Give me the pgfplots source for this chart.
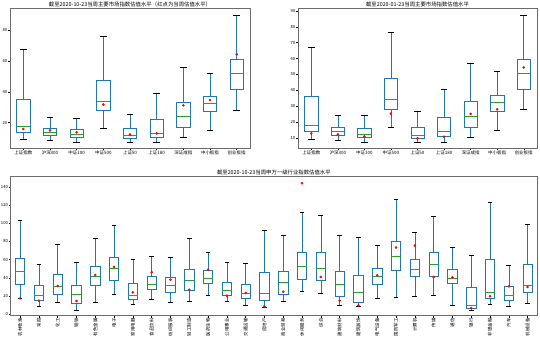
\documentclass[border=0pt]{standalone}
\usepackage{pgfplots}
\pgfplotsset{compat=1.18}
\usepgfplotslibrary{statistics}
\usepackage{fontspec}
\setmainfont{Noto Sans CJK SC}
\definecolor{cb}{HTML}{1F77B4}
\definecolor{cg}{HTML}{2CA02C}
\newcommand{\bx}[6]{\addplot[boxplot prepared={draw position=#1, lower whisker=#2, lower quartile=#3, median=#4, upper quartile=#5, upper whisker=#6}] coordinates {};}
\pgfplotsset{
  myaxis/.style={
    scale only axis,
    axis line style={draw=gray!85!black, line width=0.6bp},
    tick pos=left, tick align=outside, major tick length=1.8bp,
    tick style={black, line width=0.4bp},
    /pgf/number format/assume math mode=true,
    tick label style={font=\fontsize{4.2}{5}\selectfont, inner sep=0.8bp},
    xticklabel style={font=\fontsize{4.5}{5}\selectfont},
    title style={font=\fontsize{5.4}{6}\selectfont, at={(0.5,1)}, anchor=center, yshift=-2bp, inner sep=0pt},
    boxplot/draw direction=y,
    boxplot/box extend=0.5,
    boxplot/whisker extend=0.25,
    boxplot/every box/.style={draw=cb, line width=0.6bp},
    boxplot/every median/.style={draw=cg, line width=0.6bp},
    boxplot/draw/lower whisker/.code={
      \draw[cb, line width=0.6bp] (boxplot box cs:\pgfplotsboxplotvalue{lower whisker},0.5) -- (boxplot box cs:\pgfplotsboxplotvalue{lower quartile},0.5);
      \draw[black, line width=0.6bp] (boxplot whisker cs:\pgfplotsboxplotvalue{lower whisker},0) -- (boxplot whisker cs:\pgfplotsboxplotvalue{lower whisker},1);
    },
    boxplot/draw/upper whisker/.code={
      \draw[cb, line width=0.6bp] (boxplot box cs:\pgfplotsboxplotvalue{upper whisker},0.5) -- (boxplot box cs:\pgfplotsboxplotvalue{upper quartile},0.5);
      \draw[black, line width=0.6bp] (boxplot whisker cs:\pgfplotsboxplotvalue{upper whisker},0) -- (boxplot whisker cs:\pgfplotsboxplotvalue{upper whisker},1);
    },
  },
  reddot/.style={only marks, mark=*, mark size=1.1bp, color=red},
}
\begin{document}
\begin{tikzpicture}
\useasboundingbox (0,0) rectangle (540bp,341bp);
% Panel 1
\begin{axis}[myaxis, at={(10bp,332.5bp)}, anchor=north west, width=240bp, height=139.5bp,
  xmin=0.5, xmax=9.5, ymin=3.6, ymax=93.8, ytick={20,40,60,80},
  xtick={1,...,9}, xticklabels={上证指数,沪深300,中证100,中证500,上证50,上证180,深证成指,中小板指,创业板指},
  title={截至2020-10-23当周主要市场指数估值水平（红点为当周估值水平）}]
\bx{1}{9.0}{13.5}{17.4}{35.3}{67.2}
\bx{2}{8.3}{11.6}{13.5}{16.3}{23.2}
\bx{3}{7.1}{10.3}{12.2}{15.7}{22.6}
\bx{4}{16.3}{28.0}{33.8}{47.2}{75.9}
\bx{5}{7.1}{9.9}{11.6}{16.3}{25.6}
\bx{6}{7.1}{10.5}{12.9}{22.2}{38.8}
\bx{7}{10.3}{17.0}{23.9}{32.9}{55.6}
\bx{8}{14.8}{27.1}{32.3}{36.8}{51.7}
\bx{9}{28.0}{41.4}{51.9}{60.8}{89.3}
\addplot[reddot] coordinates {(1,15.9) (2,15.0) (3,13.7) (4,31.7) (5,12.4) (6,13.1) (7,31.2) (8,34.7) (9,64.2)};
\end{axis}
% Panel 2
\begin{axis}[myaxis, at={(298bp,332.5bp)}, anchor=north west, width=239bp, height=139.5bp,
  xmin=0.5, xmax=9.5, ymin=3.5, ymax=91.6, ytick={10,20,...,90},
  xtick={1,...,9}, xticklabels={上证指数,沪深300,中证100,中证500,上证50,上证180,深证成指,中小板指,创业板指},
  title={截至2020-01-23当周主要市场指数估值水平}]
\bx{1}{8.7}{13.8}{17.6}{35.9}{67.0}
\bx{2}{8.1}{11.3}{14.0}{16.5}{23.9}
\bx{3}{6.8}{10.2}{12.1}{15.9}{23.9}
\bx{4}{16.5}{27.9}{34.3}{47.3}{76.7}
\bx{5}{6.8}{9.6}{11.3}{16.5}{26.5}
\bx{6}{6.8}{10.6}{14.0}{22.7}{40.4}
\bx{7}{10.0}{16.5}{23.3}{32.8}{57.0}
\bx{8}{14.4}{26.5}{32.2}{36.6}{52.2}
\bx{9}{27.9}{40.4}{50.5}{59.4}{87.2}
\addplot[reddot] coordinates {(1,12.7) (2,12.1) (3,10.8) (4,25.2) (5,9.6) (6,10.6) (7,25.0) (8,27.9) (9,54.3)};
\end{axis}
% Panel 3
\begin{axis}[myaxis, at={(10.7bp,165bp)}, anchor=north west, width=526.3bp, height=139.7bp,
  xmin=0.5, xmax=28.5, ymin=-1.8, ymax=152, ytick={0,20,...,140},
  xtick={1,...,28},
  xticklabels={农林牧渔,采掘,化工,钢铁,有色金属,电子,家用电器,食品饮料,纺织服装,轻工制造,医药生物,公用事业,交通运输,房地产,商业贸易,休闲服务,综合,建筑材料,建筑装饰,电气设备,国防军工,计算机,传媒,通信,银行,非银金融,汽车,机械设备},
  xticklabel style={rotate=90, anchor=east},
  title={截至2020-10-23当周申万一级行业指数估值水平}]
\bx{1}{17.3}{32.7}{47.1}{61.4}{103.3}
\bx{2}{8.1}{15.1}{20.6}{31.6}{55.1}
\bx{3}{12.9}{21.7}{30.5}{44.1}{76.8}
\bx{4}{4.0}{11.8}{21.7}{31.6}{57.0}
\bx{5}{12.9}{31.3}{41.2}{52.6}{83.5}
\bx{6}{21.7}{37.5}{50.4}{62.5}{97.8}
\bx{7}{10.7}{16.2}{20.6}{33.5}{60.3}
\bx{8}{16.2}{26.8}{32.7}{41.2}{63.6}
\bx{9}{12.9}{23.9}{31.6}{40.4}{62.5}
\bx{10}{14.0}{25.7}{37.1}{49.3}{83.5}
\bx{11}{20.6}{33.8}{39.3}{48.2}{68.0}
\bx{12}{14.0}{20.6}{26.1}{34.9}{57.4}
\bx{13}{9.6}{16.9}{22.8}{32.7}{55.5}
\bx{14}{7.7}{15.1}{22.8}{46.3}{92.3}
\bx{15}{13.6}{21.3}{34.6}{47.4}{86.8}
\bx{16}{25.0}{38.6}{52.6}{68.0}{112.1}
\bx{17}{22.8}{37.5}{50.4}{68.0}{108.8}
\bx{18}{9.6}{19.9}{32.7}{47.1}{86.8}
\bx{19}{8.5}{12.9}{23.9}{42.6}{84.6}
\bx{20}{17.3}{32.7}{41.9}{50.4}{75.7}
\bx{21}{18.4}{48.5}{63.6}{80.1}{126.5}
\bx{22}{19.5}{41.5}{49.3}{60.3}{90.1}
\bx{23}{20.2}{41.5}{55.1}{68.0}{107.7}
\bx{24}{9.6}{33.8}{39.3}{49.3}{73.5}
\bx{25}{4.0}{6.6}{9.2}{29.4}{64.7}
\bx{26}{10.7}{17.3}{23.9}{60.3}{123.2}
\bx{27}{8.1}{15.1}{20.6}{30.5}{53.7}
\bx{28}{11.8}{23.9}{31.6}{54.8}{99.3}
\addplot[reddot] coordinates {(1,17.3) (2,14.7) (3,30.9) (4,14.3) (5,43.0) (6,51.8) (7,23.9) (8,46.0) (9,37.9) (10,26.8) (11,48.9) (12,20.2) (13,23.2) (14,8.5) (15,24.6) (16,144.1) (17,40.8) (18,14.7) (19,9.6) (20,42.6) (21,73.2) (22,75.4) (23,40.8) (24,40.4) (25,6.6) (26,19.5) (27,30.5) (28,29.8)};
\end{axis}
\end{tikzpicture}
\end{document}
